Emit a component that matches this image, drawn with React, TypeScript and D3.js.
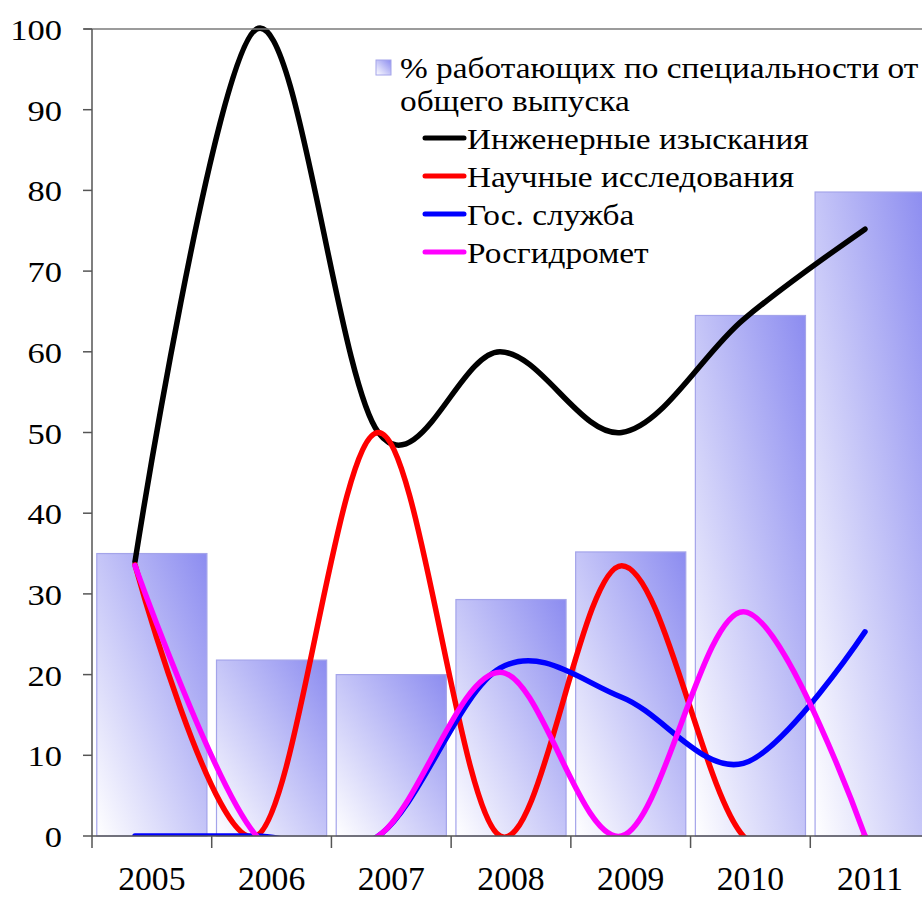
import * as d3 from "d3";

const years = ["2005", "2006", "2007", "2008", "2009", "2010", "2011"];
// % работающих по специальности от общего выпуска
const employedShare = [35, 21.8, 20, 29.3, 35.2, 64.5, 79.8];
const engineering = [34, 100, 50, 60, 50, 64, 75.2];
const science = [33.6, 0, 50, 0, 33.5, 0, 0];
const civilService = [0, 0, 0, 20.8, 17.2, 9, 25.3];
const roshydromet = [33.5, 0, 0, 20.3, 0, 27.8, 0];
const yTicks = [0, 10, 20, 30, 40, 50, 60, 70, 80, 90, 100];

const barLabel = "% работающих по специальности от";
const barLabel2 = "общего выпуска";
const lineSeries = [
  { name: "Инженерные изыскания", values: engineering, color: "#000000" },
  { name: "Научные исследования", values: science, color: "#ff0000" },
  { name: "Гос. служба", values: civilService, color: "#0000ff" },
  { name: "Росгидромет", values: roshydromet, color: "#ff00ff" },
];

const W = 922;
const H = 899;
const left = 92;
const right = 930;
const top = 29;
const bottom = 836;
const font = "Liberation Serif, Times New Roman, serif";

// the source picture is stretched sideways, so text gets a horizontal scale
function Label(props: { x: number; y: number; size: number; sx: number; anchor?: string; dy?: string; children: any }) {
  return (
    <text
      transform={`translate(${props.x},${props.y}) scale(${props.sx},1)`}
      dy={props.dy}
      textAnchor={props.anchor || "start"}
      style={{ fontFamily: font, fontSize: props.size, fill: "#000" }}
    >
      {props.children}
    </text>
  );
}

export default function App() {
  const y = d3.scaleLinear().domain([0, 100]).range([bottom, top]);
  const xBand = d3.scaleBand().domain(years).range([left, right]).paddingInner(0.08).paddingOuter(0.04);
  const xLine = d3.scalePoint().domain(years).range([135, 865]);
  const step = (right - left) / years.length;
  const bounds = d3.range(years.length + 1).map((i) => left + i * step);

  const line = d3
    .line<number>()
    .x((_, i) => xLine(years[i]) as number)
    .y((d) => y(d))
    .curve(d3.curveCardinal.tension(0));

  return (
    <svg width={W} height={H} style={{ display: "block", position: "absolute", left: 0, top: 0, background: "#fff" }}>
      <defs>
        <linearGradient id="barGrad" x1="0" y1="1" x2="1" y2="0">
          <stop offset="0" stopColor="#ffffff" />
          <stop offset="1" stopColor="#8c8cf0" />
        </linearGradient>
        <clipPath id="plotClip">
          <rect x={left} y={top - 4} width={right - left} height={bottom - top + 4} />
        </clipPath>
      </defs>

      {/* bars */}
      {employedShare.map((v, i) => (
        <rect
          key={years[i]}
          x={xBand(years[i])}
          y={y(v)}
          width={xBand.bandwidth()}
          height={bottom - y(v)}
          fill="url(#barGrad)"
          stroke="#a4a4ea"
          strokeWidth={1.2}
        />
      ))}

      {/* lines */}
      <g clipPath="url(#plotClip)">
        {lineSeries.map((s) => (
          <path
            key={s.name}
            d={line(s.values) || ""}
            fill="none"
            stroke={s.color}
            strokeWidth={5.5}
            strokeLinecap="round"
            strokeLinejoin="round"
          />
        ))}
      </g>

      {/* axes */}
      <line x1={left - 8} x2={W} y1={top} y2={top} stroke="#7a7a7a" strokeWidth={1.5} />
      <line x1={left} x2={left} y1={top} y2={bottom} stroke="#555" strokeWidth={1.5} />
      <line x1={left} x2={W} y1={bottom} y2={bottom} stroke="#555" strokeWidth={1.5} />
      {yTicks.map((t) => (
        <g key={t}>
          <line x1={left - 9} x2={left} y1={y(t)} y2={y(t)} stroke="#555" strokeWidth={1.5} />
          <Label x={62} y={y(t)} dy="0.38em" size={29} sx={1.19} anchor="end">
            {t}
          </Label>
        </g>
      ))}
      {bounds.map((b, i) => (
        <line key={i} x1={b} x2={b} y1={bottom} y2={bottom + 12} stroke="#555" strokeWidth={1.5} />
      ))}
      {years.map((yr) => (
        <Label key={yr} x={(xBand(yr) as number) + xBand.bandwidth() / 2} y={890} size={33} sx={1.02} anchor="middle">
          {yr}
        </Label>
      ))}

      {/* legend */}
      <rect x={376} y={60} width={15} height={15} fill="url(#barGrad)" stroke="#a4a4ea" strokeWidth={1} />
      <Label x={400} y={78} size={29.5} sx={1.13}>
        {barLabel}
      </Label>
      <Label x={400} y={111} size={29.5} sx={1.13}>
        {barLabel2}
      </Label>
      {lineSeries.map((s, i) => {
        const ly = 138 + i * 38;
        return (
          <g key={s.name}>
            <line x1={425} x2={464} y1={ly} y2={ly} stroke={s.color} strokeWidth={5} strokeLinecap="round" />
            <Label x={467} y={ly + 11} size={29.5} sx={1.13}>
              {s.name}
            </Label>
          </g>
        );
      })}
    </svg>
  );
}
